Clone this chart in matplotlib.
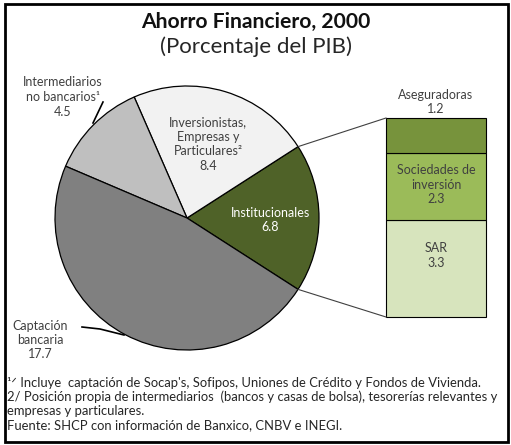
import numpy as np
import matplotlib
matplotlib.use("Agg")
import matplotlib.pyplot as plt
from matplotlib.patches import Rectangle

plt.rcParams["font.family"] = ["Lato", "DejaVu Sans"]

# Ahorro financiero 2000, % del PIB
pie_labels = ["Institucionales", "Inversionistas,\nEmpresas y\nParticulares²",
              "Intermediarios\nno bancarios¹", "Captación\nbancaria"]
pie_values = [6.8, 8.4, 4.5, 17.7]
pie_colors = ["#4F6228", "#F2F2F2", "#BFBFBF", "#808080"]

# desglose de institucionales (de abajo hacia arriba)
inst_labels = ["SAR", "Sociedades de\ninversión", "Aseguradoras"]
inst_values = [3.3, 2.3, 1.2]
inst_colors = ["#D7E4BD", "#9BBB59", "#77933C"]

W, H = 511, 445
fig = plt.figure(figsize=(W / 100, H / 100), dpi=100)
ax = fig.add_axes([0, 0, 1, 1])
ax.set_xlim(0, W)
ax.set_ylim(0, H)
ax.set_aspect("equal")
ax.axis("off")


def Y(y):
    # coordenadas medidas desde arriba
    return H - y


# marco
ax.add_patch(Rectangle((5, Y(442)), 503, 438, fill=False, lw=2, ec="black"))

ax.text(256, Y(22), "Ahorro Financiero, 2000", ha="center", va="center",
        fontsize=15.2, fontweight="bold", color="#111111")
ax.text(256, Y(47), "(Porcentaje del PIB)", ha="center", va="center", fontsize=16,
        color="#262626")

# pastel
cx, cy, r = 187, Y(218), 132
total = sum(pie_values)
start = -360 * pie_values[0] / total / 2
wedges, _ = ax.pie(pie_values, colors=pie_colors, startangle=start, counterclock=True,
                   center=(cx, cy), radius=r, frame=True,
                   wedgeprops=dict(edgecolor="black", linewidth=0.9))
ax.set_xlim(0, W)
ax.set_ylim(0, H)
ax.axis("off")

fs = 9
ax.text(208, Y(144), pie_labels[1] + "\n" + f"{pie_values[1]:.1f}", ha="center",
        va="center", fontsize=fs, color="#404040", linespacing=1.25)
ax.text(270, Y(220), pie_labels[0] + "\n" + f"{pie_values[0]:.1f}", ha="center",
        va="center", fontsize=fs, color="white", linespacing=1.25)
ax.text(63, Y(97), pie_labels[2] + "\n" + f"{pie_values[2]:.1f}", ha="center",
        va="center", fontsize=fs, color="#404040", linespacing=1.25)
ax.text(40, Y(340), pie_labels[3] + "\n" + f"{pie_values[3]:.1f}", ha="center",
        va="center", fontsize=fs, color="#404040", linespacing=1.25)

# líneas guía
ax.plot([103, 93], [Y(102), Y(123)], color="black", lw=1.2)
ax.plot([82, 100, 124], [Y(327), Y(329), Y(335)], color="black", lw=1.2)

# columna de institucionales
bx, bw = 436, 100
box_bottom, box_h = Y(317), 199
scale = box_h / sum(inst_values)
bottom = box_bottom
for lab, val, col in zip(inst_labels, inst_values, inst_colors):
    h = val * scale
    ax.bar(bx, h, width=bw, bottom=bottom, color=col, edgecolor="black", linewidth=0.8)
    txt = f"{lab}\n{val:.1f}"
    if lab == "Aseguradoras":
        ax.text(bx, bottom + h + 16, txt, ha="center", va="center", fontsize=fs,
                color="#404040", linespacing=1.25)
    elif lab == "SAR":
        ax.text(bx, bottom + h - 35, txt, ha="center", va="center", fontsize=fs,
                color="#404040", linespacing=1.25)
    else:
        ax.text(bx, bottom + h / 2 + 2, txt, ha="center", va="center", fontsize=fs,
                color="#404040", linespacing=1.25)
    bottom += h

# conexión del pastel a la columna
a1 = np.deg2rad(start + 360 * pie_values[0] / total)
a0 = np.deg2rad(start)
ax.plot([cx + r * np.cos(a1), bx - bw / 2], [cy + r * np.sin(a1), box_bottom + box_h],
        color="#404040", lw=0.8)
ax.plot([cx + r * np.cos(a0), bx - bw / 2], [cy + r * np.sin(a0), box_bottom],
        color="#404040", lw=0.8)

notes = [
    "¹ᐟ Incluye  captación de Socap's, Sofipos, Uniones de Crédito y Fondos de Vivienda.",
    "2/ Posición propia de intermediarios  (bancos y casas de bolsa), tesorerías relevantes y",
    "empresas y particulares.",
    "Fuente: SHCP con información de Banxico, CNBV e INEGI.",
]
for i, line in enumerate(notes):
    ax.text(7, Y(383 + i * 14), line, ha="left", va="center", fontsize=9.4, color="#262626")

fig.savefig("out.png", dpi=100)
